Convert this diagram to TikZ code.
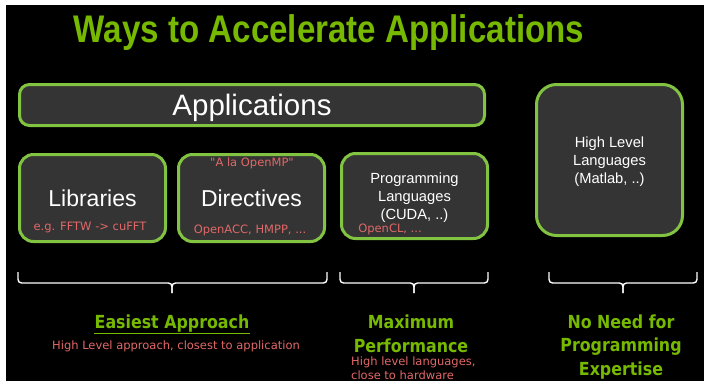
\documentclass[tikz,border=0pt]{standalone}
\usepackage{fontspec}
\setmainfont{Liberation Sans}
\newfontfamily\titlefont[FakeStretch=0.86]{Liberation Sans}
\newfontfamily\notefont{DejaVu Sans}
\newfontfamily\labelfont[FakeStretch=0.88]{DejaVu Sans}
\definecolor{nvgreen}{RGB}{118,185,0}
\definecolor{boxgreen}{RGB}{130,195,65}
\definecolor{boxgray}{RGB}{52,52,52}
\definecolor{notered}{RGB}{226,104,104}

\begin{document}
\begin{tikzpicture}[x=1pt,y=-1pt,
	box/.style={draw=boxgreen, line width=3pt, fill=boxgray, rounded corners=14pt, inner sep=0pt, text depth=0pt, text=white, align=center},
	note/.style={text=notered, inner sep=0pt, font=\notefont\fontsize{11.5}{15}\selectfont},
	heading/.style={text=nvgreen, inner sep=0pt, align=center, font=\labelfont\bfseries\fontsize{18}{23.5}\selectfont},
	bracket/.style={draw=white, line width=1.4pt, rounded corners=3.5pt}]
	\useasboundingbox (0,0) rectangle (705,381);
	\fill[white] (0,0) rectangle (705,381);
	\fill[black] (6,5) rectangle (704,381);

	% title
	\node[anchor=base, text=nvgreen, font=\titlefont\bfseries\fontsize{38.5}{40}\selectfont] (title) at (329,42) {Ways to Accelerate Applications};

	% boxes
	\node[box, rounded corners=10pt, minimum width=465pt, minimum height=41pt, font=\fontsize{29.5}{32}\selectfont] (apps) at (252,105) {Applications};
	\node[box, minimum width=146pt, minimum height=87pt, font=\fontsize{23}{26}\selectfont] (lib) at (92.5,198) {Libraries};
	\node[box, minimum width=146pt, minimum height=87pt, font=\fontsize{23}{26}\selectfont] (dir) at (251.5,198) {Directives};
	\node[box, minimum width=146pt, minimum height=85pt, font=\fontsize{14.7}{18}\selectfont] (prog) at (414.5,196) {Programming\\Languages\\(CUDA, ..)};
	\node[box, rounded corners=20pt, minimum width=146pt, minimum height=151pt, font=\fontsize{14.7}{17.8}\selectfont] (high) at (609.5,160) {High Level\\Languages\\(Matlab, ..)};

	% notes inside the boxes
	\node[note] (libnote) at (90,227) {e.g. FFTW -> cuFFT};
	\node[note] (dirtop) at (252,163) {"A la OpenMP"};
	\node[note] (dirnote) at (250,230) {OpenACC, HMPP, ...};
	\node[note] (prognote) at (390,229) {OpenCL, ...};

	% braces
	\foreach \l/\m/\r in {18/172/327, 340/414/488, 549/623/697}
	{
		\draw[bracket] (\l,272) -- (\l,283) -- (\m,283) -- (\m,293);
		\draw[bracket] (\r,272) -- (\r,283) -- (\m,283) -- (\m,293);
	}

	% approaches
	\node[heading, anchor=base] (easy) at (172,328) {Easiest Approach};
	\draw[nvgreen, line width=1.8pt] ([yshift=-5.5pt]easy.base west) -- ([yshift=-5.5pt]easy.base east);
	\node[note, anchor=base] (easynote) at (176,349) {High Level approach, closest to application};
	\node[heading] (perf) at (411,334) {Maximum\\Performance};
	\node[note, anchor=west, align=left, font=\notefont\fontsize{11.5}{14}\selectfont] (perfnote) at (351,368) {High level languages,\\close to hardware};
	\node[heading] (expert) at (621,347) {No Need for\\Programming\\Expertise};
\end{tikzpicture}
\end{document}
